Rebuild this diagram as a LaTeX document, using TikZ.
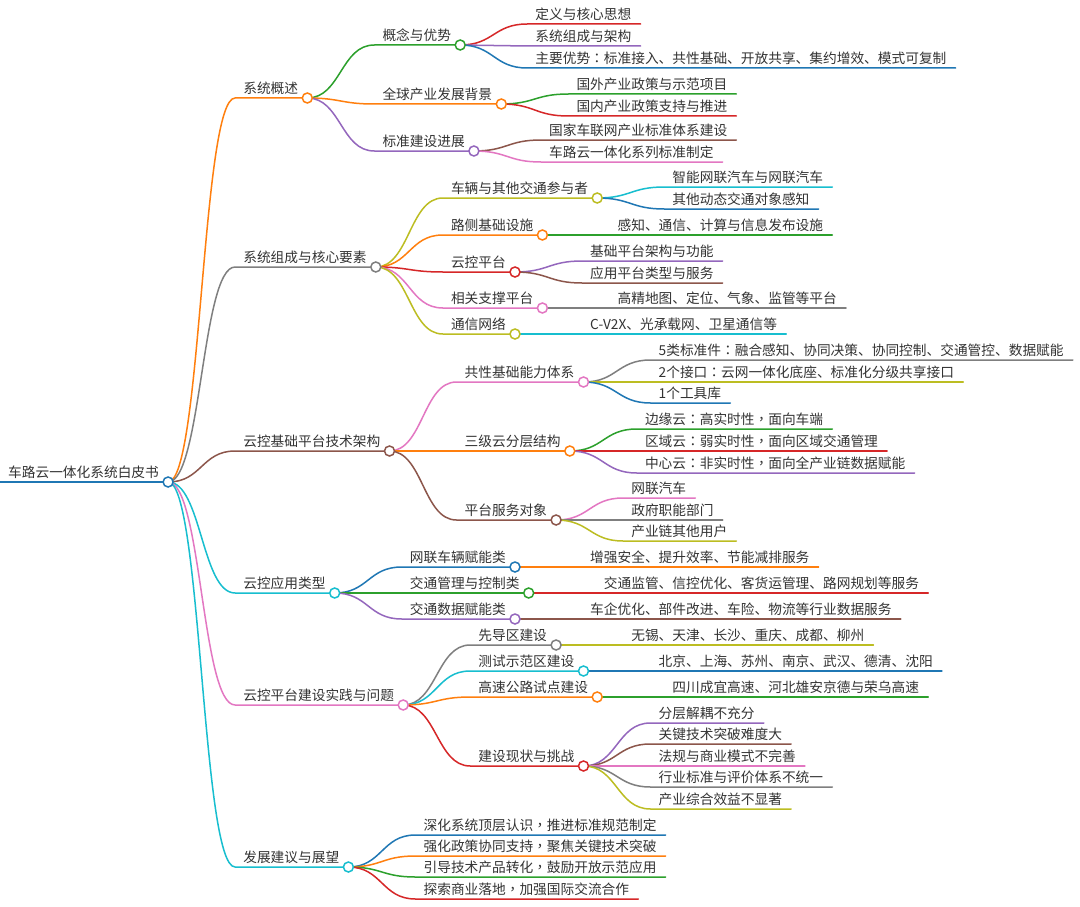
\documentclass[tikz,border=0pt]{standalone}
\usepackage{fontspec}
\setmainfont{Noto Sans CJK SC}
\newfontfamily\tcfont{Noto Sans CJK TC}
\newcommand\zcolon{{\tcfont ：}}
\newcommand\zcomma{{\tcfont ，}}
\usetikzlibrary{calc}
\pgfdeclarelayer{bg}
\pgfdeclarelayer{paper}
\pgfsetlayers{paper,bg,main}
\definecolor{cB}{HTML}{1F77B4}
\definecolor{cO}{HTML}{FF7F0E}
\definecolor{cG}{HTML}{2CA02C}
\definecolor{cR}{HTML}{D62728}
\definecolor{cP}{HTML}{9467BD}
\definecolor{cBr}{HTML}{8C564B}
\definecolor{cPk}{HTML}{E377C2}
\definecolor{cGy}{HTML}{7F7F7F}
\definecolor{cOl}{HTML}{BCBD22}
\definecolor{cC}{HTML}{17BECF}
\definecolor{txt}{HTML}{333333}
\tikzset{
  topic/.style={inner sep=0pt, text height=10.5pt, text depth=4pt,
    font=\fontsize{13.7}{16}\selectfont, text=txt},
  link/.style={line width=1.5pt, line cap=round},
  dot/.style={circle, minimum size=10pt, inner sep=0pt, fill=white, line width=1.5pt},
}
% #1 name, #2 parent, #3 colour, #4 y, #5 text
\newcommand\mmnode[5]{%
  \coordinate (#1S) at ($(#2O)+(67,0)$);
  \coordinate (#1Y) at (0,#4);
  \node[topic,anchor=south west] (#1) at (#1S |- #1Y) {\hspace*{8pt}#5\hspace*{9pt}};
  \begin{pgfonlayer}{bg}
    \draw[link,draw=#3] (#2O.center) .. controls +(33.5,0) and +(-33.5,0) .. (#1.south west) -- (#1.south east);
  \end{pgfonlayer}
  \node[dot,draw=#3] (#1O) at (#1.south east) {};
}
\newcommand\mmleaf[5]{%
  \coordinate (#1S) at ($(#2O)+(67,0)$);
  \coordinate (#1Y) at (0,#4);
  \node[topic,anchor=south west] (#1) at (#1S |- #1Y) {\hspace*{8pt}#5\hspace*{9pt}};
  \begin{pgfonlayer}{bg}
    \draw[link,draw=#3] (#2O.center) .. controls +(33.5,0) and +(-33.5,0) .. (#1.south west) -- (#1.south east);
  \end{pgfonlayer}
}
\begin{document}
\begin{tikzpicture}[x=1pt,y=-1pt]
\begin{pgfonlayer}{paper}
\fill[white] (0,0) rectangle (1080,907);
\end{pgfonlayer}
\useasboundingbox (0,0) rectangle (1080,907);
% root
\node[topic,anchor=south west] (root) at (0,482) {\hspace*{8pt}车路云一体化系统白皮书\hspace*{9pt}};
\begin{pgfonlayer}{bg}
  \draw[link,draw=cB,line width=1.8pt] (root.south west) -- (root.south east);
\end{pgfonlayer}
\node[dot,draw=cB] (rootO) at (root.south east) {};

% 1 系统概述
\mmnode{a}{root}{cO}{98}{系统概述}
\mmnode{aa}{a}{cG}{45}{概念与优势}
\mmleaf{aaa}{aa}{cR}{24}{定义与核心思想}
\mmleaf{aab}{aa}{cP}{46}{系统组成与架构}
\mmleaf{aac}{aa}{cB}{68}{主要优势\zcolon 标准接入、共性基础、开放共享、集约增效、模式可复制}
\mmnode{ab}{a}{cO}{104}{全球产业发展背景}
\mmleaf{aba}{ab}{cG}{94}{国外产业政策与示范项目}
\mmleaf{abb}{ab}{cR}{116}{国内产业政策支持与推进}
\mmnode{ac}{a}{cP}{151}{标准建设进展}
\mmleaf{aca}{ac}{cBr}{140}{国家车联网产业标准体系建设}
\mmleaf{acb}{ac}{cPk}{162}{车路云一体化系列标准制定}

% 2 系统组成与核心要素
\mmnode{b}{root}{cGy}{267}{系统组成与核心要素}
\mmnode{ba}{b}{cOl}{198}{车辆与其他交通参与者}
\mmleaf{baa}{ba}{cC}{187}{智能网联汽车与网联汽车}
\mmleaf{bab}{ba}{cB}{209}{其他动态交通对象感知}
\mmnode{bb}{b}{cO}{235}{路侧基础设施}
\mmleaf{bba}{bb}{cG}{235}{感知、通信、计算与信息发布设施}
\mmnode{bc}{b}{cR}{272}{云控平台}
\mmleaf{bca}{bc}{cP}{261}{基础平台架构与功能}
\mmleaf{bcb}{bc}{cBr}{283}{应用平台类型与服务}
\mmnode{bd}{b}{cPk}{308}{相关支撑平台}
\mmleaf{bda}{bd}{cGy}{308}{高精地图、定位、气象、监管等平台}
\mmnode{be}{b}{cOl}{334}{通信网络}
\mmleaf{bea}{be}{cC}{334}{C-V2X、光承载网、卫星通信等}

% 3 云控基础平台技术架构
\mmnode{c}{root}{cBr}{451}{云控基础平台技术架构}
\mmnode{ca}{c}{cPk}{382}{共性基础能力体系}
\mmleaf{caa}{ca}{cGy}{360}{5类标准件\zcolon 融合感知、协同决策、协同控制、交通管控、数据赋能}
\mmleaf{cab}{ca}{cOl}{382}{2个接口\zcolon 云网一体化底座、标准化分级共享接口}
\mmleaf{cac}{ca}{cB}{403}{1个工具库}
\mmnode{cb}{c}{cO}{451}{三级云分层结构}
\mmleaf{cba}{cb}{cG}{429}{边缘云\zcolon 高实时性\zcomma 面向车端}
\mmleaf{cbb}{cb}{cR}{451}{区域云\zcolon 弱实时性\zcomma 面向区域交通管理}
\mmleaf{cbc}{cb}{cP}{473}{中心云\zcolon 非实时性\zcomma 面向全产业链数据赋能}
\mmnode{cc}{c}{cBr}{520}{平台服务对象}
\mmleaf{cca}{cc}{cPk}{498}{网联汽车}
\mmleaf{ccb}{cc}{cGy}{520}{政府职能部门}
\mmleaf{ccc}{cc}{cOl}{541}{产业链其他用户}

% 4 云控应用类型
\mmnode{d}{root}{cC}{593}{云控应用类型}
\mmnode{da}{d}{cB}{567}{网联车辆赋能类}
\mmleaf{daa}{da}{cO}{567}{增强安全、提升效率、节能减排服务}
\mmnode{db}{d}{cG}{593}{交通管理与控制类}
\mmleaf{dba}{db}{cR}{593}{交通监管、信控优化、客货运管理、路网规划等服务}
\mmnode{dc}{d}{cP}{619}{交通数据赋能类}
\mmleaf{dca}{dc}{cBr}{619}{车企优化、部件改进、车险、物流等行业数据服务}

% 5 云控平台建设实践与问题
\mmnode{e}{root}{cPk}{705}{云控平台建设实践与问题}
\mmnode{ea}{e}{cGy}{645}{先导区建设}
\mmleaf{eaa}{ea}{cOl}{645}{无锡、天津、长沙、重庆、成都、柳州}
\mmnode{eb}{e}{cC}{671}{测试示范区建设}
\mmleaf{eba}{eb}{cB}{671}{北京、上海、苏州、南京、武汉、德清、沈阳}
\mmnode{ec}{e}{cO}{697}{高速公路试点建设}
\mmleaf{eca}{ec}{cG}{697}{四川成宜高速、河北雄安京德与荣乌高速}
\mmnode{ed}{e}{cR}{766}{建设现状与挑战}
\mmleaf{eda}{ed}{cP}{723}{分层解耦不充分}
\mmleaf{edb}{ed}{cBr}{744}{关键技术突破难度大}
\mmleaf{edc}{ed}{cPk}{766}{法规与商业模式不完善}
\mmleaf{edd}{ed}{cGy}{787}{行业标准与评价体系不统一}
\mmleaf{ede}{ed}{cOl}{809}{产业综合效益不显著}

% 6 发展建议与展望
\mmnode{f}{root}{cC}{867}{发展建议与展望}
\mmleaf{fa}{f}{cB}{835}{深化系统顶层认识\zcomma 推进标准规范制定}
\mmleaf{fb}{f}{cO}{856}{强化政策协同支持\zcomma 聚焦关键技术突破}
\mmleaf{fc}{f}{cG}{877}{引导技术产品转化\zcomma 鼓励开放示范应用}
\mmleaf{fd}{f}{cR}{899}{探索商业落地\zcomma 加强国际交流合作}
\end{tikzpicture}
\end{document}
